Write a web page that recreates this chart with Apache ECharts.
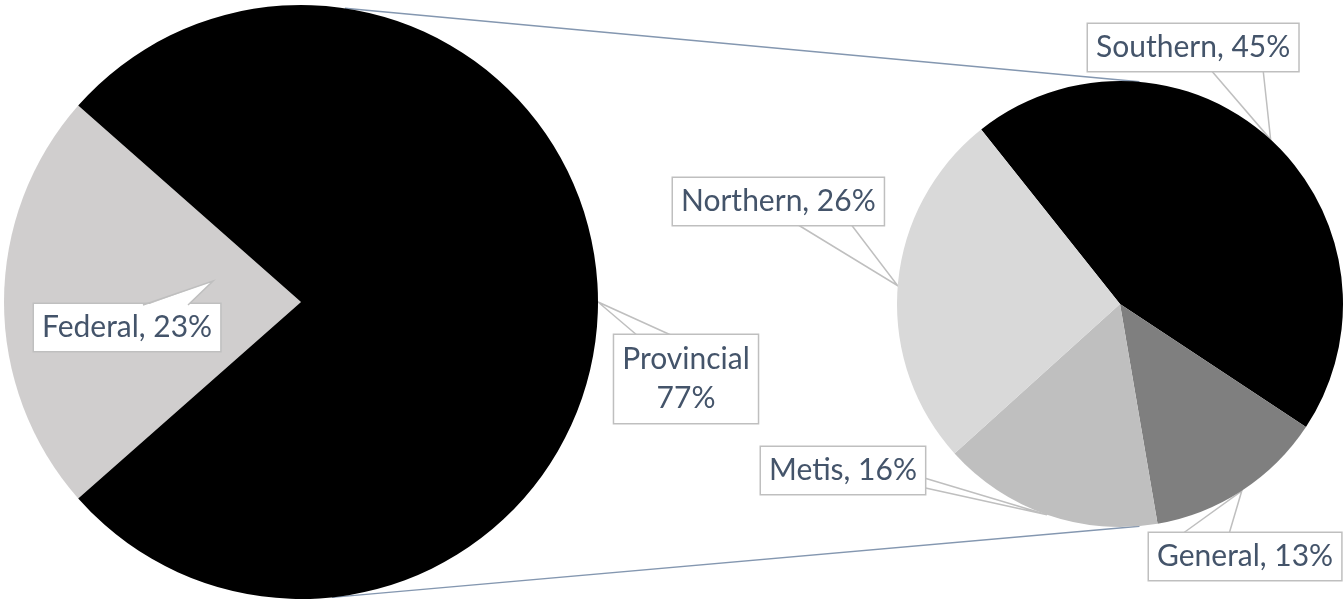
<!DOCTYPE html>
<html><head><meta charset="utf-8">
<script src="https://cdn.jsdelivr.net/npm/echarts@6/dist/echarts.min.js"></script>
<style>html,body{margin:0;padding:0;background:#fff}#c{width:1343px;height:603px}</style>
</head><body><div id="c"></div>
<script>
// ---- data ----
const mainCategories = ['Federal', 'Provincial'];
const mainValues = [23, 77];
const subCategories = ['Southern', 'General', 'Metis', 'Northern'];
const subValues = [45, 13, 16, 26];

// ---- style ----
const mainColors = ['#d0cece', '#000000'];
const subColors = ['#000000', '#7f7f7f', '#bfbfbf', '#d9d9d9'];
const LEFT = {cx: 301, cy: 302, r: 297};
const RIGHT = {cx: 1120, cy: 304, r: 223};

// callout boxes (label placement) and pointer-wedge base points
const mainCallouts = [
  {x: 34, y: 304, align: 'left', base: [[143, 305], [188, 305]], tip: [213, 281]},
  {x: 686, y: 335, align: 'center', base: [[638, 336], [673, 336]]}
];
const subCallouts = [
  {x: 1088, y: 24, align: 'left', base: [[1210, 69], [1263, 69]]},
  {x: 1149, y: 533, align: 'left', base: [[1182, 534], [1229, 534]]},
  {x: 761, y: 447, align: 'left', base: [[921, 477], [921, 487]]},
  {x: 673, y: 178, align: 'left', base: [[795, 223], [850, 223]]}
];

function makeLayout(callouts) {
  return function (p) {
    const c = callouts[p.dataIndex];
    const tip = c.tip || (p.labelLinePoints ? p.labelLinePoints[0] : c.base[0]);
    return {
      x: c.x, y: c.y, align: c.align, verticalAlign: 'top',
      labelLinePoints: [c.base[0], tip, c.base[1]]
    };
  };
}

const labelStyle = {
  show: true, position: 'outside',
  color: '#44546a', fontFamily: 'Lato', fontSize: 30, lineHeight: 37,
  backgroundColor: '#ffffff', borderColor: '#bfbfbf', borderWidth: 1.5,
  padding: [5, 8]
};
const lineStyle = {show: true, length: 10, length2: 10, lineStyle: {color: '#bfbfbf', width: 1.5}};

function onCircle(c, degFromTop) {
  const a = degFromTop * Math.PI / 180;
  return [c.cx + c.r * Math.sin(a), c.cy - c.r * Math.cos(a)];
}
const t1 = onCircle(LEFT, 8.5), t2 = onCircle(RIGHT, 5);
const b1 = onCircle(LEFT, 174), b2 = onCircle(RIGHT, 175);

// inside callout wedge (Federal) drawn as a white pointer above the label box
const fed = mainCallouts[0];
const fedWedge = [fed.base[0], fed.tip, fed.base[1]];

const chart = echarts.init(document.getElementById('c'), null, {renderer: 'canvas'});
chart.setOption({
  backgroundColor: '#ffffff',
  animation: false,
  graphic: [
    {type: 'line', z: 1, shape: {x1: t1[0], y1: t1[1], x2: t2[0], y2: t2[1]}, style: {stroke: '#8497b0', lineWidth: 1.5}},
    {type: 'line', z: 1, shape: {x1: b1[0], y1: b1[1], x2: b2[0], y2: b2[1]}, style: {stroke: '#8497b0', lineWidth: 1.5}},
    {type: 'polygon', z: 100, shape: {points: [[fed.base[0][0] + 1, fed.base[0][1] + 1], fed.tip, [fed.base[1][0] - 1, fed.base[1][1] + 1]]}, style: {fill: '#ffffff', stroke: null}},
    {type: 'polyline', z: 101, shape: {points: fedWedge}, style: {fill: null, stroke: '#bfbfbf', lineWidth: 1.5}}
  ],
  series: [
    {
      type: 'pie', center: [LEFT.cx, LEFT.cy], radius: LEFT.r,
      startAngle: 221.4, clockwise: true, avoidLabelOverlap: false,
      emphasis: {disabled: true}, silent: true,
      itemStyle: {borderWidth: 0},
      data: mainCategories.map((n, i) => ({
        name: n, value: mainValues[i], itemStyle: {color: mainColors[i]},
        labelLine: {show: i !== 0},
        label: i === 1 ? {lineHeight: 39} : {}
      })),
      label: Object.assign({}, labelStyle, {
        formatter: p => p.name === 'Provincial' ? p.name + '\n' + p.value + '%' : p.name + ', ' + p.value + '%'
      }),
      labelLine: lineStyle,
      labelLayout: makeLayout(mainCallouts)
    },
    {
      type: 'pie', center: [RIGHT.cx, RIGHT.cy], radius: RIGHT.r,
      startAngle: 128.5, clockwise: true, avoidLabelOverlap: false,
      emphasis: {disabled: true}, silent: true,
      itemStyle: {borderWidth: 0},
      data: subCategories.map((n, i) => ({name: n, value: subValues[i], itemStyle: {color: subColors[i]}})),
      label: Object.assign({}, labelStyle, {formatter: p => p.name + ', ' + p.value + '%'}),
      labelLine: lineStyle,
      labelLayout: makeLayout(subCallouts)
    }
  ]
});
</script>
</body></html>
